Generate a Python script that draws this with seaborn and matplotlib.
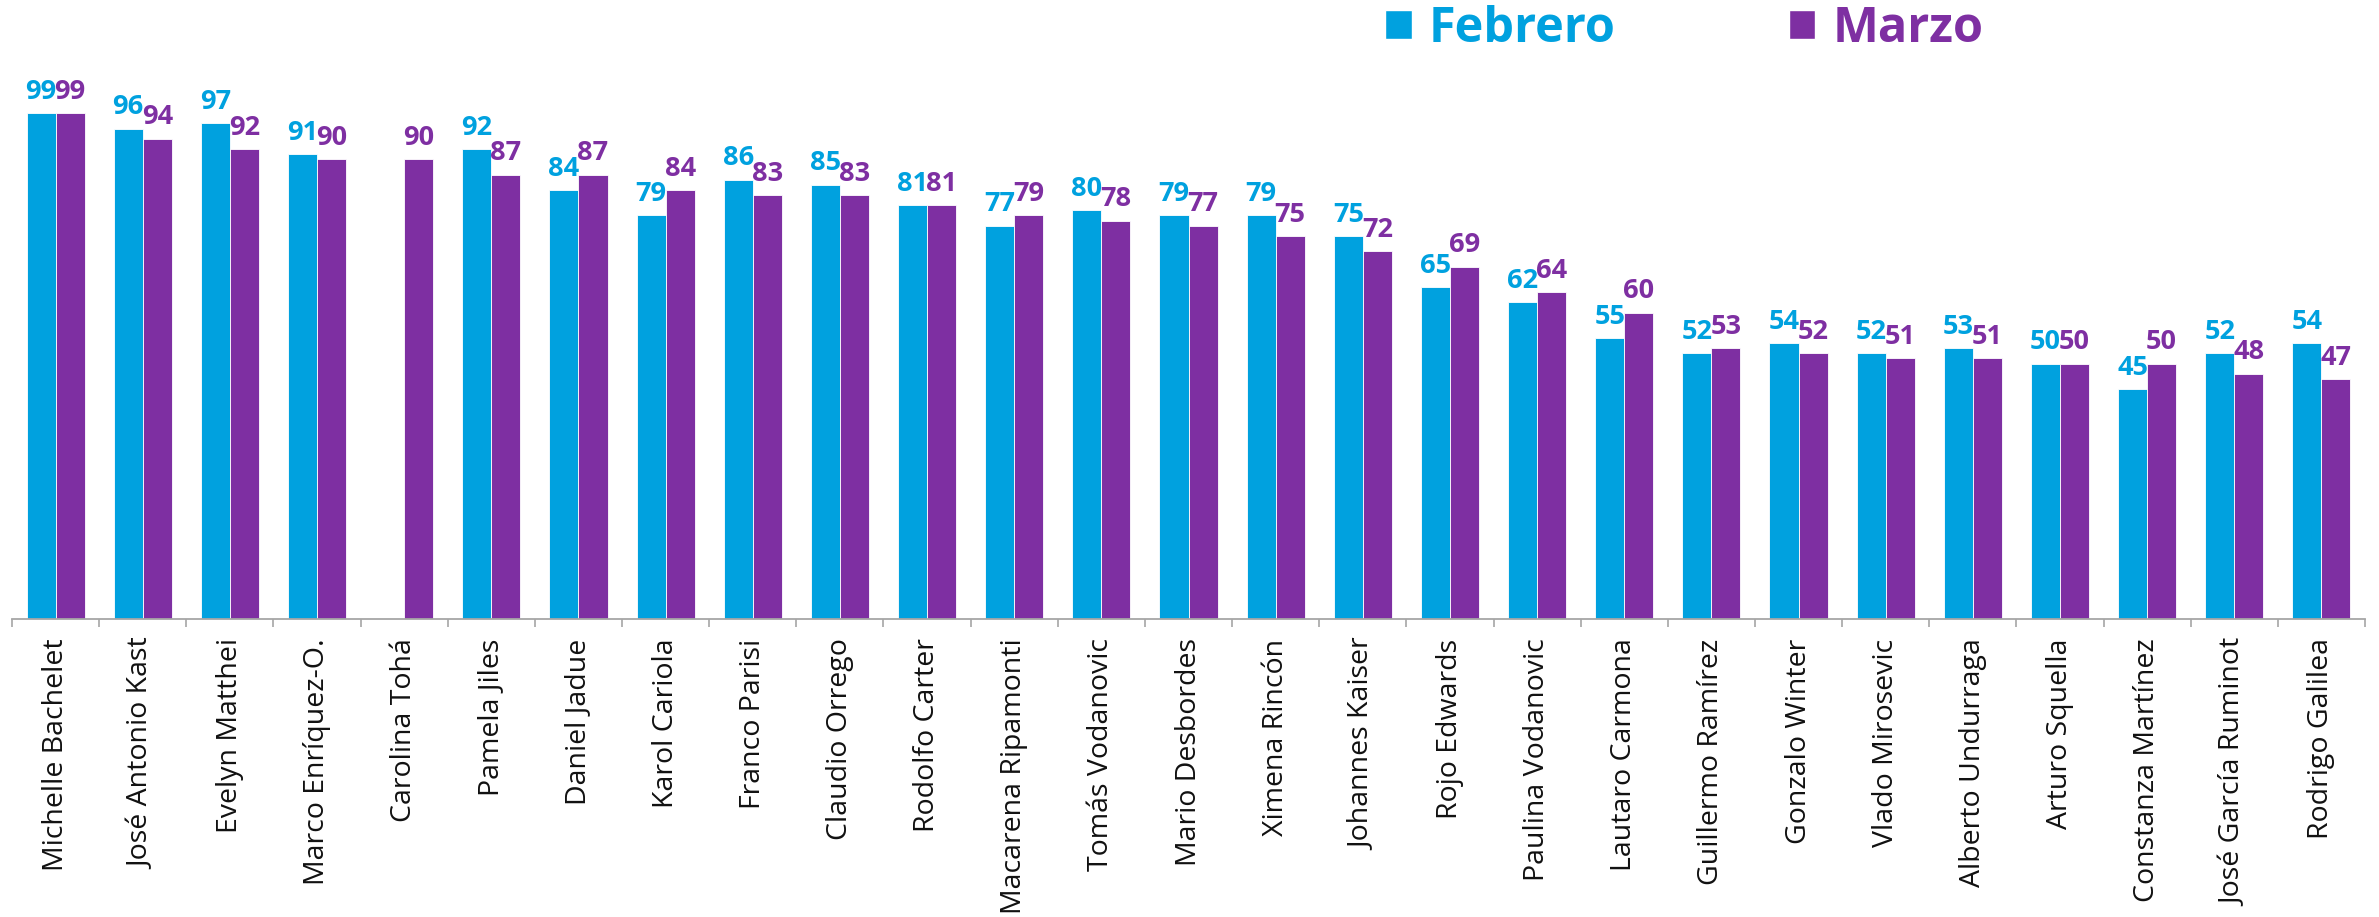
import matplotlib
matplotlib.use('Agg')
import matplotlib.pyplot as plt  # noqa: E402
import numpy as np  # noqa: E402
import pandas as pd  # noqa: E402
import seaborn as sns  # noqa: E402
from matplotlib.patches import Patch  # noqa: E402
from matplotlib.ticker import FixedLocator  # noqa: E402

NAMES = ['Michelle Bachelet', 'José Antonio Kast', 'Evelyn Matthei', 'Marco Enríquez-O.',
         'Carolina Tohá', 'Pamela Jiles', 'Daniel Jadue', 'Karol Cariola', 'Franco Parisi',
         'Claudio Orrego', 'Rodolfo Carter', 'Macarena Ripamonti', 'Tomás Vodanovic',
         'Mario Desbordes', 'Ximena Rincón', 'Johannes Kaiser', 'Rojo Edwards',
         'Paulina Vodanovic', 'Lautaro Carmona', 'Guillermo Ramírez', 'Gonzalo Winter',
         'Vlado Mirosevic', 'Alberto Undurraga', 'Arturo Squella', 'Constanza Martínez',
         'José García Ruminot', 'Rodrigo Galilea']
# Carolina Tohá has no February value
FEBRERO = [99, 96, 97, 91, np.nan, 92, 84, 79, 86, 85, 81, 77, 80, 79, 79, 75, 65, 62, 55,
           52, 54, 52, 53, 50, 45, 52, 54]
MARZO = [99, 94, 92, 90, 90, 87, 87, 84, 83, 83, 81, 79, 78, 77, 75, 72, 69, 64, 60, 53,
         52, 51, 51, 50, 50, 48, 47]
MONTHS = ['Febrero', 'Marzo']
COLORS = {'Febrero': '#00A1DF', 'Marzo': '#7E2FA2'}

df = pd.DataFrame({
    'name': NAMES * 2,
    'value': FEBRERO + MARZO,
    'mes': ['Febrero'] * len(NAMES) + ['Marzo'] * len(NAMES),
})

sns.set_theme(style='white')
plt.rcParams['font.family'] = ['Open Sans', 'DejaVu Sans']

fig = plt.figure(figsize=(23.79, 9.17), dpi=100)
ax = fig.add_axes([12 / 2379, 1 - 619 / 917, (2365 - 12) / 2379, (619 - 6) / 917])

sns.barplot(data=df, x='name', y='value', hue='mes', hue_order=MONTHS, order=NAMES,
            palette=COLORS, width=0.667, gap=0, edgecolor='white', linewidth=0.6,
            saturation=1, errorbar=None, legend=False, ax=ax)

for cont, mes in zip(ax.containers, MONTHS):
    ax.bar_label(cont, fmt='%d', padding=6, color=COLORS[mes], fontsize=19.5,
                 fontweight='bold')

ax.set_xlim(-0.5, len(NAMES) - 0.5)
ax.set_ylim(0, 120)
ax.set_xlabel('')
ax.set_ylabel('')
ax.set_yticks([])
for s in ['top', 'right', 'left']:
    ax.spines[s].set_visible(False)
ax.spines['bottom'].set_color('#A6A6A6')
ax.spines['bottom'].set_linewidth(1.3)

ax.tick_params(axis='x', which='major', length=0, pad=14, labelsize=20.5, rotation=90,
               labelcolor='#111111')
ax.xaxis.set_minor_locator(FixedLocator(np.arange(-0.5, len(NAMES), 1.0)))
ax.tick_params(axis='x', which='minor', bottom=True, length=6, width=1.2, color='#A6A6A6')

handles = [Patch(facecolor=COLORS[m], label=m) for m in MONTHS]
fig.legend(handles=handles, loc='center left', bbox_to_anchor=(1385 / 2379, 1 - 29 / 917),
           ncol=2, frameon=False, labelcolor=[COLORS[m] for m in MONTHS],
           prop={'weight': 'bold', 'size': 35}, handlelength=0.55, handleheight=0.55,
           handletextpad=0.35, columnspacing=3.56, borderpad=0, borderaxespad=0)

fig.savefig('out.png', dpi=100)
